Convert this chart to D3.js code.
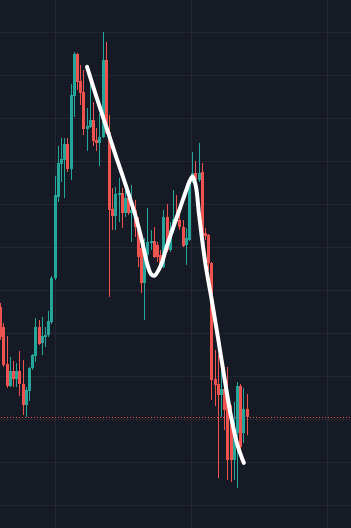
<!DOCTYPE html>
<html lang="en">
<head>
<meta charset="UTF-8">
<title>Candles</title>
<script src="https://cdn.jsdelivr.net/npm/d3@7"></script>
<style>
  html, body { margin: 0; padding: 0; background: #161a25; overflow: hidden; }
  svg { display: block; }
</style>
</head>
<body>
<script>
// ohlc, one entry per bar
const opens = [146.0, 141.4, 132.8, 127.7, 131.2, 129.3, 131.2, 128.1, 123.3, 126.5,
  131.9, 134.7, 141.4, 137.7, 139.1, 139.5, 142.6, 152.8, 171.6, 179.3,
  180.2, 184.0, 178.1, 195.1, 204.9, 198.6, 196.0, 187.4, 187.9, 189.5,
  184.9, 184.2, 185.6, 203.5, 186.7, 168.8, 167.2, 172.1, 172.6, 167.9,
  171.4, 167.9, 168.6, 165.1, 159.8, 151.6, 158.1, 160.9, 161.4, 160.5,
  158.1, 155.3, 167.0, 159.3, 164.0, 167.0, 166.3, 164.7, 160.5, 161.6,
  175.3, 177.2, 175.6, 177.4, 163.3, 162.8, 156.3, 129.3, 128.1, 125.6,
  127.0, 124.7, 120.9, 110.5, 116.7, 127.7, 116.7, 122.3];
const highs = [147.0, 142.3, 139.3, 134.4, 133.5, 133.0, 135.8, 133.7, 127.4, 132.1,
  135.1, 143.5, 143.0, 143.7, 141.4, 145.1, 153.3, 176.5, 183.5, 185.3,
  185.3, 185.3, 197.9, 205.3, 205.1, 202.3, 201.2, 192.3, 198.1, 193.7,
  187.7, 190.9, 210.0, 207.7, 190.7, 173.7, 174.0, 176.0, 173.7, 173.3,
  172.6, 174.4, 170.9, 167.0, 162.1, 162.1, 169.1, 164.0, 164.7, 161.2,
  159.3, 168.6, 170.0, 165.8, 173.3, 172.1, 168.1, 166.3, 164.4, 175.8,
  182.1, 180.0, 184.2, 179.5, 164.4, 163.0, 156.5, 136.0, 134.9, 134.4,
  132.1, 132.1, 123.3, 124.0, 128.6, 128.1, 127.2, 125.8];
const lows = [138.4, 132.1, 127.2, 127.4, 127.4, 127.4, 125.3, 120.9, 120.5, 124.2,
  131.4, 133.3, 137.2, 134.9, 136.7, 139.1, 142.1, 152.3, 170.5, 175.1,
  171.4, 177.4, 175.6, 190.2, 196.5, 193.0, 186.0, 182.3, 187.7, 183.5,
  182.3, 178.8, 185.4, 186.3, 148.4, 164.0, 164.0, 165.8, 164.4, 167.0,
  167.4, 161.2, 162.3, 155.3, 149.3, 143.0, 155.8, 159.3, 157.4, 156.5,
  154.7, 155.1, 158.8, 158.8, 163.3, 165.6, 164.0, 160.0, 155.8, 161.4,
  174.9, 174.9, 175.1, 162.6, 161.6, 154.7, 124.4, 123.0, 106.3, 120.5,
  117.4, 105.8, 105.3, 105.8, 104.0, 110.5, 114.4, 116.3];
const closes = [139.1, 132.6, 127.7, 131.2, 129.3, 131.2, 128.1, 123.3, 126.7, 131.9,
  134.9, 141.4, 137.4, 139.3, 139.5, 142.8, 152.8, 172.1, 179.5, 180.5,
  184.0, 178.1, 195.3, 204.9, 198.4, 195.8, 187.4, 188.1, 189.5, 184.7,
  184.2, 185.6, 203.5, 186.5, 168.6, 167.2, 172.3, 172.6, 167.9, 171.4,
  167.9, 168.6, 164.7, 157.7, 151.6, 158.6, 161.2, 161.4, 157.7, 157.7,
  155.3, 167.0, 159.3, 164.0, 166.5, 166.0, 164.7, 160.2, 162.1, 175.3,
  177.2, 175.6, 177.2, 162.8, 162.6, 156.3, 129.1, 127.9, 125.6, 127.0,
  122.1, 110.5, 110.5, 117.0, 127.7, 113.5, 122.3, 120.5];

// smoothed trend line (bar index, value)
const trendIdx = [27, 30, 33, 36, 39, 42, 44, 46, 47, 48, 50, 52, 54, 56, 58, 59, 60, 61, 62, 63, 64, 66, 68, 70, 72, 74, 76];
const trendVal = [201.9, 194.8, 188.0, 181.2, 174.6, 167.6, 162.0, 155.6, 153.7, 153.3, 155.6, 160.3, 164.7, 168.9,
  173.2, 175.2, 176.4, 174.2, 167.6, 161.6, 156.1, 147.6, 138.6, 129.3, 120.6, 114.0, 109.8];

const priceTicks = [100, 110, 120, 130, 140, 150, 160, 170, 180, 190, 200, 210];
const timeTicks = [17, 59.5, 102];

const width = 351, height = 528;
const upColor = "#26a69a", downColor = "#ef5350";

const svg = d3.select("body").append("svg")
    .attr("width", width)
    .attr("height", height);

svg.append("rect").attr("width", width).attr("height", height).attr("fill", "#161a25");

const x = d3.scaleLinear().domain([-0.19, 109.5]).range([0, width]);
const y = d3.scaleLinear().domain([94.65, 217.44]).range([height, 0]);

// grid
svg.append("g").attr("shape-rendering", "crispEdges")
    .selectAll("line.h")
    .data(priceTicks)
    .join("line").attr("class", "h")
    .attr("x1", 0).attr("x2", width)
    .attr("y1", d => Math.round(y(d)) + 0.5)
    .attr("y2", d => Math.round(y(d)) + 0.5)
    .attr("stroke", "#242733");

svg.append("g").attr("shape-rendering", "crispEdges")
    .selectAll("line.v")
    .data(timeTicks)
    .join("line").attr("class", "v")
    .attr("y1", 0).attr("y2", height)
    .attr("x1", d => Math.round(x(d)) + 0.5)
    .attr("x2", d => Math.round(x(d)) + 0.5)
    .attr("stroke", "#242733");

const bars = d3.range(opens.length).map(i => ({
    i, o: opens[i], h: highs[i], l: lows[i], c: closes[i]
}));

// last price line
const last = closes[closes.length - 1];
svg.append("line")
    .attr("shape-rendering", "crispEdges")
    .attr("x1", 0.5).attr("x2", width)
    .attr("y1", Math.round(y(last)) + 0.5)
    .attr("y2", Math.round(y(last)) + 0.5)
    .attr("stroke", downColor)
    .attr("stroke-dasharray", "1,2");

const g = svg.append("g").attr("shape-rendering", "crispEdges");
const left = d => Math.round(x(d.i) - 1.5);
const col = d => d.c >= d.o ? upColor : downColor;

g.selectAll("rect.wick")
    .data(bars)
    .join("rect").attr("class", "wick")
    .attr("x", d => left(d) + 1)
    .attr("width", 1)
    .attr("y", d => Math.round(y(d.h)))
    .attr("height", d => Math.max(1, Math.round(y(d.l)) - Math.round(y(d.h))))
    .attr("fill", col);

g.selectAll("rect.body")
    .data(bars)
    .join("rect").attr("class", "body")
    .attr("x", left)
    .attr("width", 3)
    .attr("y", d => Math.round(y(Math.max(d.o, d.c))))
    .attr("height", d => Math.max(1, Math.round(y(Math.min(d.o, d.c))) - Math.round(y(Math.max(d.o, d.c)))))
    .attr("fill", col);

// trend curve
const line = d3.line()
    .x(d => x(d[0]))
    .y(d => y(d[1]))
    .curve(d3.curveCatmullRom.alpha(0.5));

svg.append("path")
    .datum(trendIdx.map((t, k) => [t, trendVal[k]]))
    .attr("d", line)
    .attr("fill", "none")
    .attr("stroke", "#ffffff")
    .attr("stroke-width", 4)
    .attr("stroke-linecap", "round");
</script>
</body>
</html>
